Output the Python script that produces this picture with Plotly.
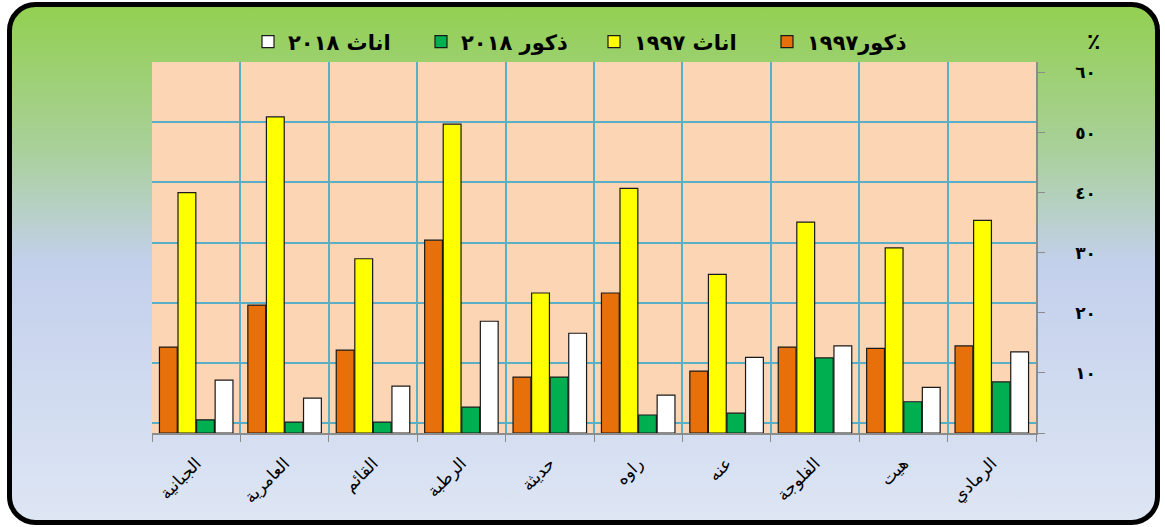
import base64
import plotly.graph_objects as go

# ---- data ----
categories = ["الجبانية", "العامرية", "القائم", "الرطبة", "حديثة",
              "راوه", "عنه", "الفلوجة", "هيت", "الرمادي"]
males_1997 = [14.3, 21.3, 13.8, 32.1, 9.3, 23.3, 10.3, 14.3, 14.1, 14.5]
females_1997 = [40.0, 52.6, 29.0, 51.4, 23.3, 40.7, 26.4, 35.1, 30.8, 35.4]
males_2018 = [2.2, 1.8, 1.8, 4.3, 9.3, 3.0, 3.3, 12.5, 5.2, 8.5]
females_2018 = [8.8, 5.8, 7.8, 18.6, 16.6, 6.3, 12.6, 14.5, 7.6, 13.5]
series_names = ["ذكور١٩٩٧", "اناث ١٩٩٧", "ذكور ٢٠١٨", "اناث ٢٠١٨"]
y_tick_values = [10, 20, 30, 40, 50, 60]
y_tick_labels = ["١٠", "٢٠", "٣٠", "٤٠", "٥٠", "٦٠"]
unit_label = "٪"

colors = ["#E8700A", "#FFFF00", "#00B050", "#FFFFFF"]
plot_bg = "#FCD5B4"

W, H = 1165, 527
ML, MR, MT, MB = 152, 129, 62, 94
PW, PH = W - ML - MR, H - MT - MB

fig = go.Figure()
x_idx = list(range(len(categories)))
for name, vals, col in zip(series_names,
                           [males_1997, females_1997, males_2018, females_2018],
                           colors):
    fig.add_trace(go.Bar(
        x=x_idx, y=vals, name=name,
        marker=dict(color=col, line=dict(color="#1a1a1a", width=1.2)),
    ))

# decorative frame: gradient panel with rounded black border + plot-area fill
svg = f"""<svg xmlns='http://www.w3.org/2000/svg' width='{W}' height='{H}' viewBox='0 0 {W} {H}' preserveAspectRatio='none'>
<defs><linearGradient id='g' x1='0' y1='0' x2='0' y2='1'>
<stop offset='0' stop-color='#92D050'/>
<stop offset='0.28' stop-color='#A9D09A'/>
<stop offset='0.50' stop-color='#C3D0EC'/>
<stop offset='1' stop-color='#DEE6F4'/></linearGradient></defs>
<rect x='9.5' y='4.5' width='1148' height='518' rx='26' ry='26' fill='url(#g)' stroke='black' stroke-width='5'/>
<rect x='{ML}' y='{MT}' width='{PW}' height='{PH}' fill='{plot_bg}'/></svg>"""
src = "data:image/svg+xml;base64," + base64.b64encode(svg.encode()).decode()

fig.update_layout(
    width=W, height=H,
    margin=dict(l=ML, r=MR, t=MT, b=MB, autoexpand=False),
    paper_bgcolor="white",
    plot_bgcolor="rgba(0,0,0,0)",
    barmode="group", bargap=0.16, bargroupgap=0.04,
    showlegend=True,
    legend=dict(
        orientation="h", traceorder="reversed",
        x=(248 - ML) / PW, xanchor="left",
        y=1 + (MT - 42) / PH, yanchor="middle",
        bgcolor="rgba(0,0,0,0)",
        font=dict(family="DejaVu Sans", size=21, color="black", weight="bold"),
        entrywidth=128, entrywidthmode="pixels",
        itemclick=False,
    ),
    font=dict(family="DejaVu Sans", color="black"),
    images=[dict(source=src, xref="paper", yref="paper",
                 x=-ML / PW, y=1 + MT / PH, sizex=W / PW, sizey=H / PH,
                 xanchor="left", yanchor="top", sizing="stretch", layer="below")],
    annotations=[dict(text=unit_label, xref="paper", yref="paper",
                      x=1 + 57 / PW, y=1 + 20 / PH, xanchor="center", yanchor="middle",
                      showarrow=False,
                      font=dict(size=22, color="black", family="DejaVu Sans", weight="bold"))],
)

fig.update_xaxes(
    range=[-0.5, len(categories) - 0.5], automargin=False,
    tickmode="array", tickvals=x_idx, ticktext=categories,
    tickangle=-45, tickfont=dict(size=17, family="DejaVu Sans", color="black"),
    ticks="", ticklabelstandoff=12, showgrid=False, zeroline=False,
    showline=True, linecolor="#8c8c8c", linewidth=1.5,
    minor=dict(tickmode="linear", tick0=-0.5, dtick=1, showgrid=True,
               gridcolor="#5AAFC7", gridwidth=2,
               ticks="outside", ticklen=7, tickcolor="#8c8c8c"),
)
fig.update_yaxes(
    range=[0, 61.75], side="right", automargin=False,
    tickmode="array", tickvals=[0] + y_tick_values, ticktext=[""] + y_tick_labels,
    tickfont=dict(size=17, family="DejaVu Sans", color="black", weight="bold"),
    ticks="outside", ticklen=7, tickcolor="#8c8c8c",
    ticklabelstandoff=27,
    showgrid=False, zeroline=False,
    showline=True, linecolor="#8c8c8c", linewidth=1.5,
    minor=dict(tickmode="linear", tick0=1.7, dtick=10, showgrid=True,
               gridcolor="#5AAFC7", gridwidth=2, ticks=""),
)

fig.write_html("out.html", config={"displayModeBar": False},
               post_script="document.body.style.margin='0';")
